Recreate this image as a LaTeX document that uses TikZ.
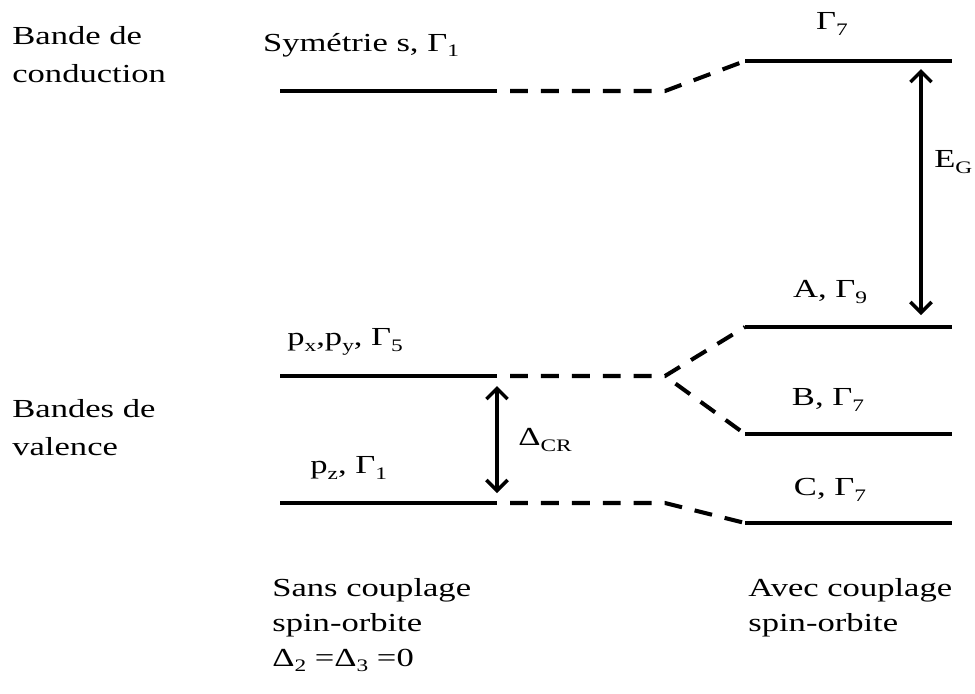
\documentclass[tikz,border=0pt]{standalone}
\usepackage{fontspec}
\setmainfont{Liberation Serif}[FakeStretch=1.33]
\usetikzlibrary{arrows.meta}
\newcommand{\dn}[1]{\raisebox{-0.45ex}{\fontsize{10}{10}\selectfont #1}}
\newcommand{\lvl}[4]{%
  \coordinate (#1-l) at (#2,#4);
  \coordinate (#1-r) at (#3,#4);
  \draw[level] (#1-l) -- (#1-r);
}

\begin{document}
\begin{tikzpicture}[x=0.02cm,y=-0.02cm,
  every node/.style={font=\fontsize{14.8}{21.6}\selectfont,inner sep=0pt},
  level/.style={line width=2.3pt},
  link/.style={line width=2.3pt,dash pattern=on 10.2pt off 7.4pt,dash phase=10.2pt},
  gap/.style={line width=2pt,{Straight Barb[length=6pt,width=12pt,line width=2pt]}-{Straight Barb[length=6pt,width=12pt,line width=2pt]}}]
  \useasboundingbox (0,0) rectangle (975,694);
  % niveaux
  \lvl{s}{280}{497}{91}
  \lvl{pxy}{280}{497}{376}
  \lvl{pz}{280}{497}{503}
  \foreach \n/\y in {g7/61,a9/327,b7/434,c7/523} {\lvl{\n}{745}{952}{\y}}
  % liaisons
  \draw[link] (s-r) -- ++(168,0) -- (g7-l);
  \draw[link] (pxy-r) -- ++(168,0) coordinate (split) -- (a9-l);
  \draw[link] (split) -- (b7-l);
  \draw[link] (pz-r) -- ++(168,0) -- (c7-l);
  % ecarts
  \coordinate (eg-t) at (921,69);
  \coordinate (eg-b) at (921,315);
  \draw[gap] (eg-t) -- (eg-b);
  \draw[gap] ([yshift=-0.2cm]pxy-r) -- ([yshift=0.2cm]pz-r);
  \node[anchor=west] (eg) at (934,162) {E\dn{G}};
  \node[anchor=west] (dcr) at (518,440) {Δ\dn{CR}};
  % etiquettes
  \node[anchor=west,align=left] (cb) at (12,55) {Bande de\\conduction};
  \node[anchor=west,align=left] (vb) at (12,428) {Bandes de\\valence};
  \node (s-lab) at (361,45) {Symétrie s, Γ\dn{1}};
  \node[anchor=west] (pxy-lab) at (287,342) {p\dn{x},p\dn{y}, Γ\dn{5}};
  \node[anchor=west] (pz-lab) at (310,468) {p\dn{z}, Γ\dn{1}};
  \node (g7-lab) at (832,24) {Γ\dn{7}};
  \node (a9-lab) at (830,292) {A, Γ\dn{9}};
  \node (b7-lab) at (828,400) {B, Γ\dn{7}};
  \node (c7-lab) at (830,490) {C, Γ\dn{7}};
  \node[anchor=north west,align=left,font=\fontsize{14.8}{19.9}\selectfont] (sans) at (272,578) {Sans couplage\\spin-orbite\\Δ\dn{2} =Δ\dn{3} =0};
  \node[anchor=north west,align=left,font=\fontsize{14.8}{19.9}\selectfont] (avec) at (748,578) {Avec couplage\\spin-orbite};
\end{tikzpicture}
\end{document}
